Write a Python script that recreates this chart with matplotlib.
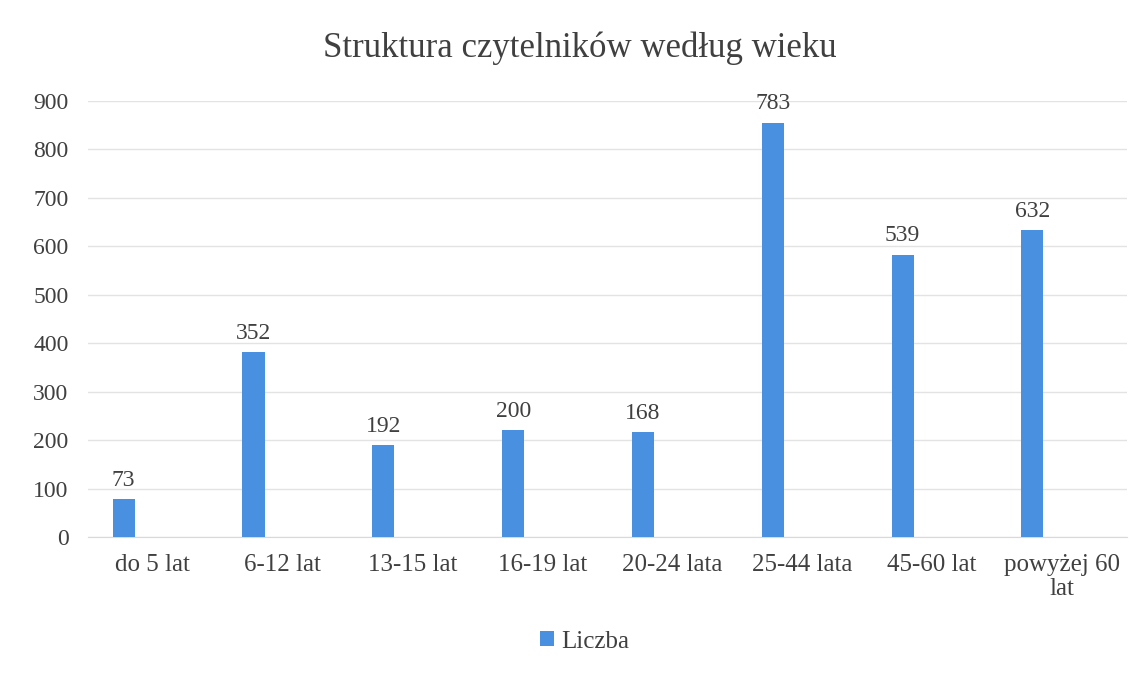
import matplotlib
matplotlib.use("Agg")
import matplotlib.pyplot as plt
import numpy as np

categories = ["do 5 lat", "6-12 lat", "13-15 lat", "16-19 lat", "20-24 lata",
              "25-44 lata", "45-60 lat", "powyżej 60\nlat"]
# bar heights as drawn in the picture
bar_heights = [78, 382, 190, 221, 217, 855, 583, 634]
# data labels as printed in the picture
value_labels = ["73", "352", "192", "200", "168", "783", "539", "632"]
y_ticks = [0, 100, 200, 300, 400, 500, 600, 700, 800, 900]
series_name = "Liczba"

plt.rcParams['font.family'] = ['Liberation Serif', 'DejaVu Serif']
txt = '#404040'

fig = plt.figure(figsize=(11.46, 6.77), dpi=100)
ax = fig.add_axes([0.0768, 0.2068, 0.9062, 0.644])
x = np.arange(len(categories))
bar_offset = -0.225  # bars sit left of category centre (clustered layout)
bars = ax.bar(x + bar_offset, bar_heights, width=0.17, color='#4a90e0',
              label=series_name, zorder=3)
for b, lab in zip(bars, value_labels):
    ax.annotate(lab, (b.get_x() + b.get_width() / 2, b.get_height()),
                xytext=(0, 6), textcoords='offset points', ha='center', va='bottom',
                fontsize=17, color=txt)

ax.set_xlim(-0.5, len(categories) - 0.5)
ax.set_ylim(0, 900)
ax.set_yticks(y_ticks)
ax.set_xticks(x)
ax.set_xticklabels(categories, fontsize=18, color=txt, linespacing=1.15)
ax.tick_params(axis='y', labelsize=17, labelcolor=txt, length=0, pad=14)
ax.tick_params(axis='x', length=0, pad=12)
ax.grid(axis='y', color='#e3e3e3', linewidth=1, zorder=0)
for s in ['top', 'right', 'left']:
    ax.spines[s].set_visible(False)
ax.spines['bottom'].set_color('#d9d9d9')

fig.text(0.506, 0.928, "Struktura czytelników według wieku", ha='center', va='center',
         fontsize=25, color=txt)
fig.legend(handles=[bars], labels=[series_name], loc='center', bbox_to_anchor=(0.51, 0.052),
           frameon=False, fontsize=18, handlelength=0.55, handleheight=0.55,
           handletextpad=0.3, labelcolor=txt)

fig.savefig("out.png", dpi=100, facecolor='white')
